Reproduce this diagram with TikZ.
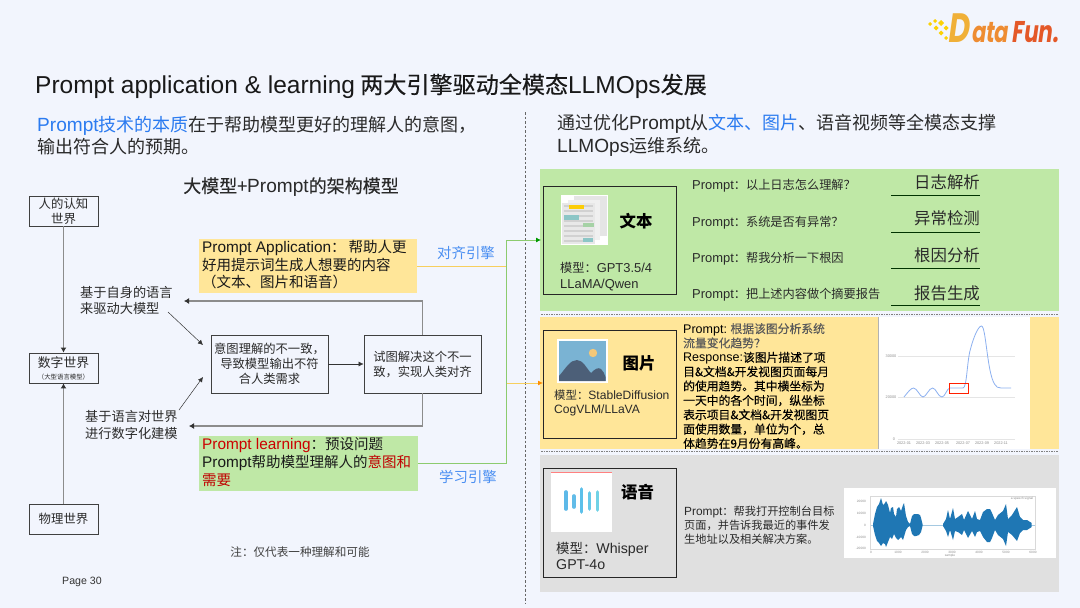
\documentclass[tikz,border=0pt]{standalone}
\usepackage{fontspec}
\setmainfont{Noto Sans CJK SC}
\newfontfamily\latfont[Scale=1.06]{Liberation Sans}
\newfontfamily\cjkmed[FakeBold=0.25]{Noto Sans CJK SC}
\newfontfamily\cjksemi[FakeBold=0.1]{Noto Sans CJK SC}
\newfontfamily\logofont[FakeSlant=0.14,FakeStretch=0.72]{Poppins}
\newcommand{\en}[1]{{\latfont #1}}
\newcommand{\fsz}[2]{\fontsize{#1}{#2}\selectfont}
\newcommand{\fcol}{\char"FF1A\relax}
\newcommand{\fcom}{\char"FF0C\relax}
\newcommand{\fqm}{\char"FF1F\relax}
\newcommand{\flp}{\char"FF08\relax}
\newcommand{\frp}{\char"FF09\relax}
\definecolor{pagebg}{HTML}{F2F5FD}
\definecolor{linkblue}{HTML}{2B7BF0}
\definecolor{inkdark}{HTML}{2A2A2A}
\definecolor{panelgreen}{HTML}{BFE8A6}
\definecolor{panelyellow}{HTML}{FFE699}
\definecolor{panelgray}{HTML}{E0E0E0}
\definecolor{wireblue}{HTML}{8CB0F0}
\definecolor{wavefill}{HTML}{1F77B4}
\definecolor{busgreen}{HTML}{8CCB6E}
\definecolor{busyellow}{HTML}{F7CF5E}
\usetikzlibrary{arrows.meta}
\tikzset{
  worldbox/.style={draw=black!75, line width=0.9pt, fill=pagebg, align=center, text=inkdark, inner sep=0pt},
  toolbox/.style={draw=black!85, line width=0.9pt, inner sep=0pt},
  txt/.style={anchor=west, align=left, inner sep=0pt, text=inkdark},
  mid/.style={anchor=center, align=center, inner sep=0pt, text=inkdark},
  flow/.style={draw=black!45, line width=1.2pt, -{Latex[length=5pt,width=6pt,black!80]}},
  thin flow/.style={draw=black!80, line width=0.5pt, -{Latex[length=5pt,width=5pt]}},
  tiny tick/.style={inner sep=0pt, text=black!45, font=\latfont\fsz{3.6}{4}},
}
\begin{document}
\begin{tikzpicture}[x=1pt,y=-1pt]
\useasboundingbox (0,0) rectangle (1080,608);
\fill [pagebg] (0,0) rectangle (1080,608);
% logo
\foreach \lx/\ly/\ls in {930/24/2,935/21/2,936/28/2.5,941/23/3,941/33/2.5,946/28/2.5,946/38/2}
  \fill [color=yellow!70!orange] (\lx-\ls,\ly) -- (\lx,\ly-\ls) -- (\lx+\ls,\ly) -- (\lx,\ly+\ls) -- cycle;
\node (logod) at (947,42) [anchor=base west, inner sep=0pt, text={rgb,255:red,240;green,176;blue,56}, font=\logofont\bfseries\fsz{41}{42}] {D};
\node (logoa) at (971,42) [anchor=base west, inner sep=0pt, text={rgb,255:red,238;green,140;blue,50}, font=\logofont\bfseries\fsz{29}{30}] {ata};
\node (logof) at (1011,42) [anchor=base west, inner sep=0pt, text={rgb,255:red,228;green,88;blue,40}, font=\logofont\bfseries\fsz{30}{30}] {Fun.};
% heading
\node (title) at (35,86) [txt, text=black!90, font=\fsz{23.1}{26}] {\en{Prompt application \& learning} {\cjkmed 两大引擎驱动全模态}\en{LLMOps}{\cjkmed 发展}};
\node (leadleft) at (37,135.5) [txt, font=\fsz{18}{22.6}] {\textcolor{linkblue}{\en{Prompt}技术的本质}在于帮助模型更好的理解人的意图\fcom\\输出符合人的预期。};
\node (leadright) at (557,135.5) [txt, font=\fsz{18}{22.6}] {通过优化\en{Prompt}从\textcolor{linkblue}{文本、图片}、语音视频等全模态支撑\\\en{LLMOps}运维系统。};
\coordinate (splita) at (525,112);
\coordinate (splitb) at (525,603);
\draw [black!60, line width=0.5pt, dash pattern=on 2.5pt off 2pt] (splita) -- (splitb);
% left side
\node (archtitle) at (291,187) [mid, font=\cjkmed\fsz{18}{20}] {大模型+\en{Prompt}的架构模型};
\node (human) at (63.5,211) [worldbox, minimum width=69pt, minimum height=30pt, font=\fsz{12.4}{15}] {人的认知\\世界};
\node (digital) at (63.5,368) [worldbox, minimum width=69pt, minimum height=30pt, font=\fsz{12.8}{14}] {数字世界\\[-2pt]{\fsz{6.4}{7}\flp 大型语言模型\frp}};
\node (physical) at (63.5,519) [worldbox, minimum width=69pt, minimum height=30pt, font=\fsz{12.4}{15}] {物理世界};
\draw [flow] (human) -- (digital);
\draw [flow] (physical) -- (digital);
\node (selflang) at (80,300.5) [txt, font=\fsz{13.2}{16.6}] {基于自身的语言\\来驱动大模型};
\node (worldlang) at (85,425) [txt, font=\fsz{13.2}{16.6}] {基于语言对世界\\进行数字化建模};
\node (mismatch) at (269.5,364) [worldbox, minimum width=117pt, minimum height=58pt, font=\fsz{12.3}{15}] {意图理解的不一致\fcom\\导致模型输出不符\\合人类需求};
\node (resolve) at (422.5,364) [worldbox, minimum width=117pt, minimum height=58pt, font=\fsz{12.3}{15}] {试图解决这个不一\\致\fcom 实现人类对齐};
\coordinate (selfend) at (184,301);
\coordinate (worldend) at (189,426);
\coordinate (selfa) at (168,312);
\coordinate (selfb) at (203,345);
\coordinate (worlda) at (179,410);
\coordinate (worldb) at (203,377);
\draw [thin flow] (mismatch) -- (resolve);
\draw [flow] (resolve.north) |- (selfend);
\draw [flow] (resolve.south) |- (worldend);
\draw [thin flow] (selfa) -- (selfb);
\draw [thin flow] (worlda) -- (worldb);
\node (appbox) at (308,266) [minimum width=218pt, minimum height=54pt, inner sep=0pt, fill=panelyellow] {};
\node (apptext) at (202,265) [txt, text=black!90, font=\fsz{14.5}{17.6}] {\en{Prompt Application}\fcol\hspace{3pt}帮助人更\\好用提示词生成人想要的内容\\\flp 文本、图片和语音\frp};
\node (learnbox) at (308.5,463.5) [minimum width=219pt, minimum height=55pt, inner sep=0pt, fill=panelgreen] {};
\node (learntext) at (202,462) [txt, text=black!90, font=\fsz{14.5}{18}] {\textcolor{red!80!black}{\en{Prompt learning}}\fcol 预设问题\\\en{Prompt}帮助模型理解人的\textcolor{red!75!black}{意图和}\\\textcolor{red!75!black}{需要}};
\node (alignlab) at (466,253) [mid, text=linkblue!85, font=\fsz{14.4}{16}] {对齐引擎};
\node (learnlab) at (468,477) [mid, text=linkblue!85, font=\fsz{14.4}{16}] {学习引擎};
\node (note) at (300,552) [mid, text=black!75, font=\fsz{11.6}{14}] {注\fcol 仅代表一种理解和可能};
\node (pageno) at (62,582) [txt, text=black!80, font=\latfont\fsz{10}{12}] {Page 30};
% right panels
\node (greenpanel) at (799.5,240) [minimum width=519pt, minimum height=142pt, inner sep=0pt, fill=panelgreen] {};
\node (yellowpanel) at (799.5,383) [minimum width=519pt, minimum height=132pt, inner sep=0pt, fill=panelyellow] {};
\node (graypanel) at (799.5,523.5) [minimum width=519pt, minimum height=137pt, inner sep=0pt, fill=panelgray] {};
\draw [black!50, line width=0.6pt, dash pattern=on 1.5pt off 1pt] (541,314) -- (1058,314);
\draw [black!50, line width=0.6pt, dash pattern=on 1.5pt off 1pt] (541,451) -- (1058,451);
% engines
\coordinate (gbusa) at (506.5,240);
\coordinate (gbusb) at (506.5,463);
\coordinate (ybusa) at (506.5,266);
\coordinate (ybusb) at (506.5,383);
\coordinate (gend) at (541,240);
\coordinate (yend) at (543,383);
\draw [busyellow, line width=0.8pt] (appbox.east |- ybusa) -- (ybusa);
\draw [busyellow, line width=0.8pt, -{Latex[length=5pt,width=5pt,orange!90!yellow]}] (ybusb) -- (yend);
\draw [busgreen, line width=0.8pt] (learnbox.east |- gbusb) -- (gbusb) -- (gbusa);
\draw [busgreen, line width=0.8pt, -{Latex[length=5pt,width=5pt,green!60!black]}] (gbusa) -- (gend);
% text panel
\node (textbox) at (609.5,240) [toolbox, minimum width=133pt, minimum height=108pt] {};
\fill [white] (561,195) rectangle (608,245);
\fill [black!10] (574,196) rectangle (607,236);
\fill [black!6] (568,200) rectangle (600,240);
\fill [black!9] (562,203) rectangle (595,244);
\foreach \ty in {206,211,216,221,226,231,236,241}
  \draw [black!18, line width=1.4pt] (564,\ty) -- (593,\ty);
\fill [yellow!65!orange] (569,204.5) rectangle (584,209);
\fill [teal!45] (564,215) rectangle (579,219.5);
\fill [green!50!black!35] (583,222.5) rectangle (594,226.5);
\fill [teal!45] (583,238) rectangle (593,242);
\node (textlab) at (636,221) [mid, text=black, font=\bfseries\fsz{16.4}{18}] {文本};
\node (textmodel) at (560,276.5) [txt, font=\fsz{12.2}{15.2}] {模型\fcol\en{GPT3.5/4}\\\en{LLaMA/Qwen}};
\foreach \pn/\py/\pt in {a/186/以上日志怎么理解\fqm,b/222.6/系统是否有异常\fqm,c/259/帮我分析一下根因,d/295/把上述内容做个摘要报告}
  \node (ask\pn) at (692,\py) [txt, font=\fsz{12.2}{14}] {\en{Prompt}\fcol\pt};
\foreach \pn/\py/\pt in {a/182/日志解析,b/218/异常检测,c/255/根因分析,d/293/报告生成} {
  \node (tag\pn) at (980,\py) [anchor=east, inner sep=0pt, text=inkdark, font=\fsz{16.4}{18}] {\pt};
}
\foreach \pn/\py in {a/195,b/232,c/268.5,d/305} {
  \coordinate (rulel\pn) at (891,\py);
  \coordinate (ruler\pn) at (980,\py);
  \draw [black!80!green, line width=0.7pt] (rulel\pn) -- (ruler\pn);
}
% image panel
\node (imagebox) at (609.5,384) [toolbox, minimum width=133pt, minimum height=108pt] {};
\fill [white] (557,339) rectangle (607.5,383);
\fill [color={rgb,255:red,122;green,179;blue,211}] (559,341) rectangle (605.5,381);
\fill [color={rgb,255:red,244;green,200;blue,120}] (593,353) circle (4.2);
\fill [color={rgb,255:red,76;green,95;blue,120}] (559,381) -- (559,376) .. controls (566,368) and (570,360) .. (577,360) .. controls (583,360) and (587,369) .. (591,373) .. controls (595,369) and (598,367) .. (601,369) .. controls (603,371) and (605,374) .. (605.5,377) -- (605.5,381) -- cycle;
\node (imagelab) at (639,363) [mid, text=black, font=\bfseries\fsz{16.4}{18}] {图片};
\node (imagemodel) at (554,403) [txt, font=\fsz{11.4}{14.2}] {模型\fcol\en{StableDiffusion}\\\en{CogVLM/LLaVA}};
\node (imagetext) at (683,386) [txt, text=black, font=\cjksemi\fsz{11.8}{14.35}] {\en{Prompt:} \textcolor{black!65}{根据该图分析系统}\\\textcolor{black!65}{流量变化趋势\fqm}\\\en{Response:}该图片描述了项\\目\&文档\&开发视图页面每月\\的使用趋势。其中横坐标为\\一天中的各个时间\fcom 纵坐标\\表示项目\&文档\&开发视图页\\面使用数量\fcom 单位为个\fcom 总\\体趋势在9月份有高峰。};
\fill [white] (878.5,317) rectangle (1030,449);
\draw [black!30, line width=0.5pt] (878.5,317) -- (878.5,449);
\foreach \gy in {356,397,439}
  \draw [black!10, line width=0.6pt] (898,\gy) -- (1015,\gy);
\foreach \gy/\gt in {356/30000,397/20000}
  \node at (891,\gy) [tiny tick] {\gt};
\node (zerotick) at (894,439) [tiny tick] {0};
\foreach \gx/\gt in {904/2022-01,923/2022-03,942/2022-05,963/2022-07,982/2022-09,1001/2022-11}
  \node at (\gx,443.5) [tiny tick] {\gt};
\draw [wireblue, line width=0.8pt] (904,397) .. controls (908,392) and (911,388) .. (913.6,388) .. controls (917,388) and (920,397) .. (923,397) .. controls (926,397) and (929,388) .. (932.6,388) .. controls (936,388) and (938,397) .. (942,397) .. controls (945,397) and (947,388) .. (950,388) -- (963,388) .. controls (967,388) and (967,360) .. (970.5,349) .. controls (973,339) and (978,326) .. (981.5,326) .. controls (986,326) and (987,372) .. (994.5,384) .. controls (996,387) and (998,388) .. (1001,388) -- (1011,388);
\draw [red!75!orange, line width=0.8pt] (949,383) rectangle (968,393);
% voice panel
\node (voicebox) at (609.5,522.5) [toolbox, minimum width=133pt, minimum height=109pt] {};
\fill [white] (551,472) rectangle (612,532);
\draw [red!50, line width=0.6pt] (551,472.3) -- (612,472.3);
\foreach \bx/\ba/\bb/\bc in {566/490/511/5DB9E8,574/494/509/62BCE8,581.5/487/514/5CC0EA,589.5/491/511/66C8E8,597.5/490/512/70D2E6}{
  \definecolor{barcolor}{HTML}{\bc}
  \draw [barcolor, line width=3.6pt, line cap=round] (\bx,\ba+2) -- (\bx,\bb-2);
}
\node (voicelab) at (637.5,492) [mid, text=black, font=\bfseries\fsz{16.4}{18}] {语音};
\node (voicemodel) at (556,556) [txt, font=\fsz{13.4}{16.2}] {模型\fcol\en{Whisper}\\\en{GPT-4o}};
\node (voicetext) at (684,525) [txt, font=\fsz{11.2}{14}] {\en{Prompt}\fcol 帮我打开控制台目标\\页面\fcom 并告诉我最近的事件发\\生地址以及相关解决方案。};
\fill [white] (844,488) rectangle (1056,558);
\draw [black!15, line width=0.6pt] (870.6,496) rectangle (1035,549);
\draw [wavefill!40, line width=0.5pt] (870.6,525) -- (1035,525);
\fill [wavefill] (873,524) -- (875,514) -- (877,507) -- (879,504) -- (881,498) -- (883,505) -- (885,503) -- (886,501) -- (888,505) -- (890,513) -- (891,508) -- (893,507) -- (894,514) -- (896,517) -- (897,509) -- (899,507) -- (901,511) -- (903,505) -- (904,503) -- (906,516) -- (908,522) -- (910,524) -- (910,526) -- (908,527) -- (906,530) -- (903,540) -- (901,537) -- (898,540) -- (896,538) -- (894,534) -- (892,539) -- (890,537) -- (888,542) -- (886,547) -- (885,544) -- (883,543) -- (881,546) -- (879,543) -- (877,541) -- (875,535) -- (873,526) -- cycle;
\fill [wavefill] (910,524) -- (912,516) -- (914,514) -- (916,514) -- (918,514) -- (920,515) -- (921,518) -- (922.5,524) -- (922.5,526) -- (921,532) -- (919,535) -- (916,536) -- (914,536) -- (912,534) -- (910,526) -- cycle;
\fill [wavefill] (943,524) -- (946,519) -- (948,510) -- (950,519) -- (953,508) -- (955,519) -- (958,517) -- (962,514) -- (964,520) -- (968,511) -- (972,519) -- (975,511) -- (977,519) -- (980,520) -- (983,512) -- (987,509) -- (990,509) -- (992,513) -- (995,520) -- (998,515) -- (1003,511) -- (1006,504) -- (1008,519) -- (1012,515) -- (1017,507) -- (1020,517) -- (1023,520) -- (1027,520) -- (1031.7,523) -- (1031.7,527) -- (1027,530) -- (1023,530) -- (1020,533) -- (1017,541) -- (1012,535) -- (1008,532) -- (1006,546) -- (1003,539) -- (998,535) -- (995,530) -- (992,538) -- (990,542) -- (987,542) -- (983,537) -- (980,531) -- (977,532) -- (975,537) -- (972,531) -- (968,538) -- (964,530) -- (962,535) -- (958,532) -- (955,531) -- (953,540) -- (950,530) -- (948,537) -- (946,531) -- (943,526) -- cycle;
\foreach \ay/\at in {501/20000,513/10000,525/0,537/-10000,548/-20000}
  \node at (866,\ay) [tiny tick, anchor=east, font=\latfont\fsz{3}{3}] {\at};
\foreach \ax/\at in {871/0,898/1000,925/2000,952/3000,979/4000,1006/5000,1033/6000}
  \node at (\ax,552) [tiny tick, font=\latfont\fsz{3}{3}] {\at};
\node (xname) at (950,556) [tiny tick, font=\latfont\fsz{3}{3}] {sample};
\node (legendname) at (1022,499) [tiny tick, font=\latfont\fsz{3}{3}] {a speech signal};
\end{tikzpicture}
\end{document}
